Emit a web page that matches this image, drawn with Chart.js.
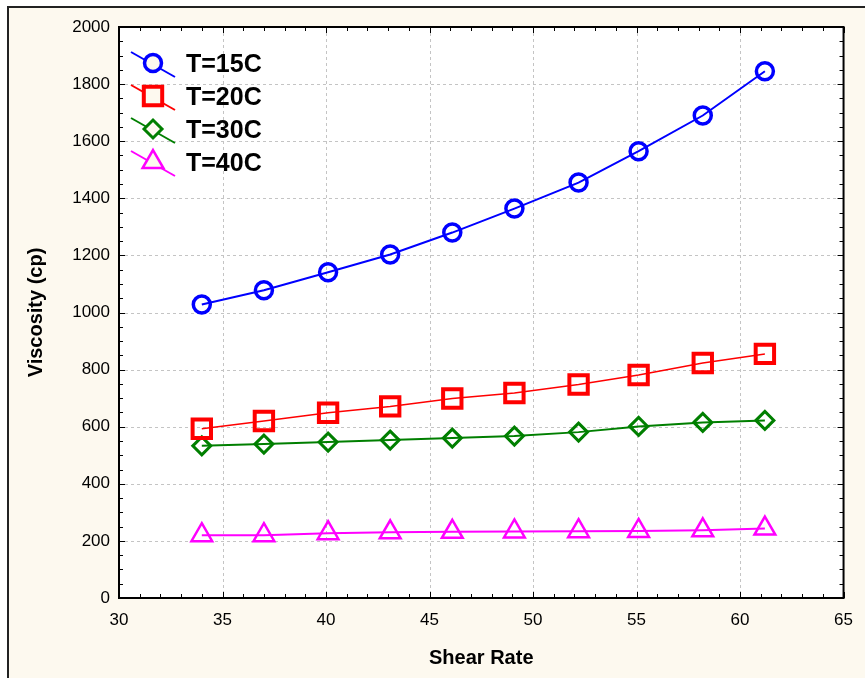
<!DOCTYPE html>
<html>
<head>
<meta charset="utf-8">
<title>Viscosity vs Shear Rate</title>
<script src="https://cdn.jsdelivr.net/npm/chart.js"></script>
<style>
  html, body { margin:0; padding:0; background:#fff; }
  canvas { display:block; }
</style>
</head>
<body>
<canvas id="chart" width="865" height="678"></canvas>
<script>
// values
const shearRate = [34.0, 37.0, 40.1, 43.1, 46.1, 49.1, 52.2, 55.1, 58.2, 61.2];
const visc15 = [1028, 1078, 1141, 1203, 1280, 1364, 1455, 1565, 1690, 1845];
const visc20 = [593, 620, 649, 671, 699, 718, 748, 781, 823, 855];
const visc30 = [533, 539, 546, 553, 560, 567, 581, 601, 615, 622];
const visc40 = [220, 220, 227, 230, 232, 233, 234, 235, 237, 243];
const seriesLabels = ['T=15C', 'T=20C', 'T=30C', 'T=40C'];
const xTickValues = [30, 35, 40, 45, 50, 55, 60, 65];
const yTickValues = [0, 200, 400, 600, 800, 1000, 1200, 1400, 1600, 1800, 2000];

const CREAM = '#fdf9ef';
const FONT = '"Liberation Sans", Arial, sans-serif';
Chart.defaults.font.family = FONT;
Chart.defaults.color = '#000';

const pts = ys => shearRate.map((x, i) => ({ x, y: ys[i] }));

function series(label, ys, color, style, radius, bw, lw) {
  return {
    label, data: pts(ys), showLine: true, tension: 0,
    borderColor: color, borderWidth: lw,
    pointStyle: style, pointRadius: radius, pointHoverRadius: radius,
    pointBorderColor: color, pointBackgroundColor: 'rgba(0,0,0,0)',
    pointBorderWidth: bw
  };
}

// cream paper, white plot, dashed grid, frame and inner ticks
const paper = {
  id: 'paper',
  beforeDraw(chart) {
    const { ctx, chartArea: a } = chart;
    ctx.save();
    ctx.fillStyle = '#fff';
    ctx.fillRect(0, 0, chart.width, chart.height);
    ctx.fillStyle = CREAM;
    ctx.fillRect(8, 7, chart.width, chart.height);
    ctx.strokeStyle = '#222';
    ctx.lineWidth = 2;
    ctx.strokeRect(8, 7, chart.width + 10, chart.height + 10);
    ctx.fillStyle = '#fff';
    ctx.fillRect(a.left, a.top, a.right - a.left, a.bottom - a.top);
    ctx.restore();
  },
  beforeDatasetsDraw(chart) {
    const { ctx, chartArea: a, scales: { x, y } } = chart;
    ctx.save();
    ctx.strokeStyle = '#c4c4c4';
    ctx.lineWidth = 1;
    ctx.setLineDash([3, 3]);
    x.ticks.forEach(t => {
      const px = Math.round(x.getPixelForValue(t.value)) + 0.5;
      if (px < a.left + 2 || px > a.right - 2) return;
      ctx.beginPath(); ctx.moveTo(px, a.top); ctx.lineTo(px, a.bottom); ctx.stroke();
    });
    y.ticks.forEach(t => {
      const py = Math.round(y.getPixelForValue(t.value)) + 0.5;
      if (py < a.top + 2 || py > a.bottom - 2) return;
      ctx.beginPath(); ctx.moveTo(a.left, py); ctx.lineTo(a.right, py); ctx.stroke();
    });
    ctx.setLineDash([]);
    ctx.strokeStyle = '#000';
    ctx.lineWidth = 1;
    // minor + major ticks, pointing inward on all four sides
    for (let v = x.min; v <= x.max; v += 1) {
      const px = Math.round(x.getPixelForValue(v)) + 0.5;
      const len = v % 5 === 0 ? 6 : 4;
      ctx.beginPath();
      ctx.moveTo(px, a.bottom); ctx.lineTo(px, a.bottom - len);
      ctx.moveTo(px, a.top); ctx.lineTo(px, a.top + len);
      ctx.stroke();
    }
    for (let v = y.min; v <= y.max; v += 50) {
      const py = Math.round(y.getPixelForValue(v)) + 0.5;
      const len = v % 200 === 0 ? 6 : 4;
      ctx.beginPath();
      ctx.moveTo(a.left, py); ctx.lineTo(a.left + len, py);
      ctx.moveTo(a.right, py); ctx.lineTo(a.right - len, py);
      ctx.stroke();
    }
    ctx.lineWidth = 2;
    ctx.strokeRect(a.left, a.top, a.right - a.left, a.bottom - a.top);
    ctx.restore();
  }
};

// legend in the upper-left corner of the plot, slanted line through each marker
const cornerLegend = {
  id: 'cornerLegend',
  afterDatasetsDraw(chart) {
    const { ctx, chartArea: a } = chart;
    chart.data.datasets.forEach((ds, i) => {
      const cy = a.top + 36 + i * 33;
      const cx = a.left + 34;
      ctx.save();
      ctx.strokeStyle = ds.borderColor;
      ctx.lineWidth = 2;
      ctx.beginPath();
      ctx.moveTo(a.left + 12, cy - 11);
      ctx.lineTo(a.left + 56, cy + 14);
      ctx.stroke();
      ctx.fillStyle = CREAM;
      ctx.lineWidth = ds.pointBorderWidth;
      Chart.helpers.drawPoint(ctx, {
        pointStyle: ds.pointStyle, radius: ds.pointRadius,
        borderWidth: ds.pointBorderWidth, rotation: 0
      }, cx, cy);
      ctx.fillStyle = '#000';
      ctx.font = 'bold 25px ' + FONT;
      ctx.textBaseline = 'middle';
      ctx.textAlign = 'left';
      ctx.fillText(ds.label, a.left + 67, cy + 2);
      ctx.restore();
    });
  }
};

new Chart(document.getElementById('chart'), {
  type: 'scatter',
  data: {
    datasets: [
      series(seriesLabels[0], visc15, '#0000ff', 'circle', 8.5, 3.5, 2),
      series(seriesLabels[1], visc20, '#ff0000', 'rect', 13, 4, 1.5),
      series(seriesLabels[2], visc30, '#007f00', 'rectRot', 9, 3, 2),
      series(seriesLabels[3], visc40, '#ff00ff', 'triangle', 12, 2.5, 2)
    ]
  },
  options: {
    responsive: false,
    animation: false,
    layout: { padding: { top: 27, right: 12, left: 0, bottom: 0 } },
    plugins: { legend: { display: false }, tooltip: { enabled: false } },
    scales: {
      x: {
        type: 'linear', min: 30, max: 65,
        afterBuildTicks: s => { s.ticks = xTickValues.map(v => ({ value: v })); },
        afterFit: s => { s.height = 80; },
        grid: { display: false, drawTicks: false },
        border: { display: false },
        ticks: { font: { size: 17 }, padding: 12, maxRotation: 0, autoSkip: false, callback: v => String(v) },
        title: { display: true, text: 'Shear Rate', font: { size: 20, weight: 'bold' }, padding: { top: 0, bottom: 8 } }
      },
      y: {
        type: 'linear', min: 0, max: 2000,
        afterBuildTicks: s => { s.ticks = yTickValues.map(v => ({ value: v })); },
        afterFit: s => { s.width = 119; },
        grid: { display: false, drawTicks: false },
        border: { display: false },
        ticks: { font: { size: 17 }, padding: 9, autoSkip: false, callback: v => String(v) },
        title: { display: true, text: 'Viscosity (cp)', font: { size: 20, weight: 'bold' }, padding: { top: 24, bottom: 0 } }
      }
    }
  },
  plugins: [paper, cornerLegend]
});
</script>
</body>
</html>
